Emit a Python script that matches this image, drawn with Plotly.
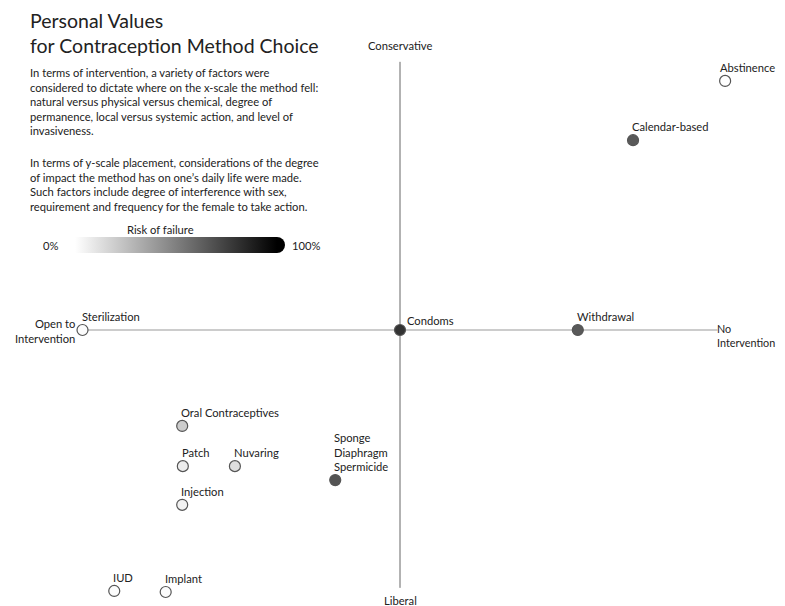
import plotly.graph_objects as go

# ---- data ----
methods = ["Sterilization", "Condoms", "Withdrawal", "Abstinence", "Calendar-based",
           "Oral Contraceptives", "Patch", "Nuvaring", "Injection",
           "Sponge<br>Diaphragm<br>Spermicide", "IUD", "Implant"]
intervention = [-5.0, 0.0, 2.8, 5.12, 3.67, -3.43, -3.42, -2.6, -3.43, -1.02, -4.5, -3.69]
impact = [0.0, 0.0, 0.0, 4.83, 3.68, -1.86, -2.64, -2.64, -3.39, -2.91, -5.06, -5.08]
risk = [1, 80, 65, 0, 65, 20, 7, 13, 5, 67, 1, 1]
risk_ticks = ["0%", "100%"]

W, H = 785, 606
OFF = 8            # page offset of the figure (browser body margin)
CX, CY = 400, 330  # page pixel of the origin
SX, SY = 63.5, 51.57  # pixels per unit
FONT = "Lato"

xr = [(OFF - CX) / SX, (OFF + W - CX) / SX]
yr = [(CY - OFF - H) / SY, (CY - OFF) / SY]

def pg(x, y):
    """page pixel -> paper coords"""
    return (x - OFF) / W, 1 - (y - OFF) / H

fig = go.Figure()

# axis lines
fig.add_shape(type="line", x0=-5, x1=5, y0=0, y1=0, line=dict(color="#999", width=1), layer="below")
fig.add_shape(type="line", x0=0, x1=0, y0=-5.0, y1=5.2, line=dict(color="#666", width=1), layer="below")

cb_x0, cb_x1, cb_y = 75, 277, 245
fig.add_trace(go.Scatter(
    x=intervention, y=impact, mode="markers",
    marker=dict(size=11, color=risk, cmin=0, cmax=100,
                colorscale=[[0, "#ffffff"], [1, "#000000"]],
                line=dict(color="#555555", width=1.2),
                colorbar=dict(orientation="h", xref="container", yref="container",
                              x=pg(cb_x0, 0)[0], xanchor="left",
                              y=pg(0, cb_y)[1], yanchor="middle",
                              len=cb_x1 - cb_x0, lenmode="pixels", thickness=16,
                              showticklabels=False, ticks="", outlinewidth=0,
                              xpad=0, ypad=0)),
    cliponaxis=False, hoverinfo="text", hovertext=methods, showlegend=False))

# rounded end of the gradient bar
ex, ey = pg(cb_x1, cb_y)
fig.add_shape(type="circle", xref="paper", yref="paper", xsizemode="pixel", ysizemode="pixel",
              xanchor=ex, yanchor=ey, x0=-8, x1=8, y0=-8, y1=8,
              fillcolor="black", line=dict(width=0))

anns = []
for m, x, y in zip(methods, intervention, impact):
    a = dict(x=x, y=y, text=m, showarrow=False, xanchor="left", yanchor="bottom",
             xshift=-3, yshift=5, align="left", font=dict(size=11.2, color="#222", family=FONT))
    if m == "Condoms":
        a.update(xshift=5, yshift=1)
    elif m == "Abstinence":
        a.update(xshift=-7)
    anns.append(a)

def pann(x, y, text, size=11.2, xanchor="left", yanchor="middle", align="left", color="#222"):
    ax, ay = pg(x, y)
    anns.append(dict(xref="paper", yref="paper", x=ax, y=ay, text=text, showarrow=False,
                     xanchor=xanchor, yanchor=yanchor, align=align,
                     font=dict(size=size, color=color, family=FONT)))

pann(28, 21, "Personal Values", size=19.5)
pann(28, 45, "for Contraception Method Choice", size=19.5)
pann(28, 64, "In terms of intervention, a variety of factors were<br>"
             "considered to dictate where on the x-scale the method fell:<br>"
             "natural versus physical versus chemical, degree of<br>"
             "permanence, local versus systemic action, and level of<br>"
             "invasiveness.", yanchor="top")
pann(28, 154, "In terms of y-scale placement, considerations of the degree<br>"
              "of impact the method has on one\u2019s daily life were made.<br>"
              "Such factors include degree of interference with sex,<br>"
              "requirement and frequency for the female to take action.", yanchor="top")
pann(160, 229, "Risk of failure", xanchor="center")
pann(60, cb_y, risk_ticks[0], xanchor="right")
pann(290, cb_y, risk_ticks[1])
pann(400, 45, "Conservative", xanchor="center")
pann(400, 600, "Liberal", xanchor="center")
pann(77, 331, "Open to<br>Intervention", xanchor="right", align="right")
pann(715, 335, "No<br>Intervention", size=10.8)

fig.update_layout(
    width=W, height=H, margin=dict(l=0, r=0, t=0, b=0, pad=0, autoexpand=False),
    paper_bgcolor="white", plot_bgcolor="white",
    font=dict(family=FONT, size=11.2, color="#222"),
    xaxis=dict(range=xr, showgrid=False, showticklabels=False, ticks="",
               zeroline=False, showline=False),
    yaxis=dict(range=yr, showgrid=False, showticklabels=False, ticks="",
               zeroline=False, showline=False),
    annotations=anns,
)

fig.write_html("out.html")
